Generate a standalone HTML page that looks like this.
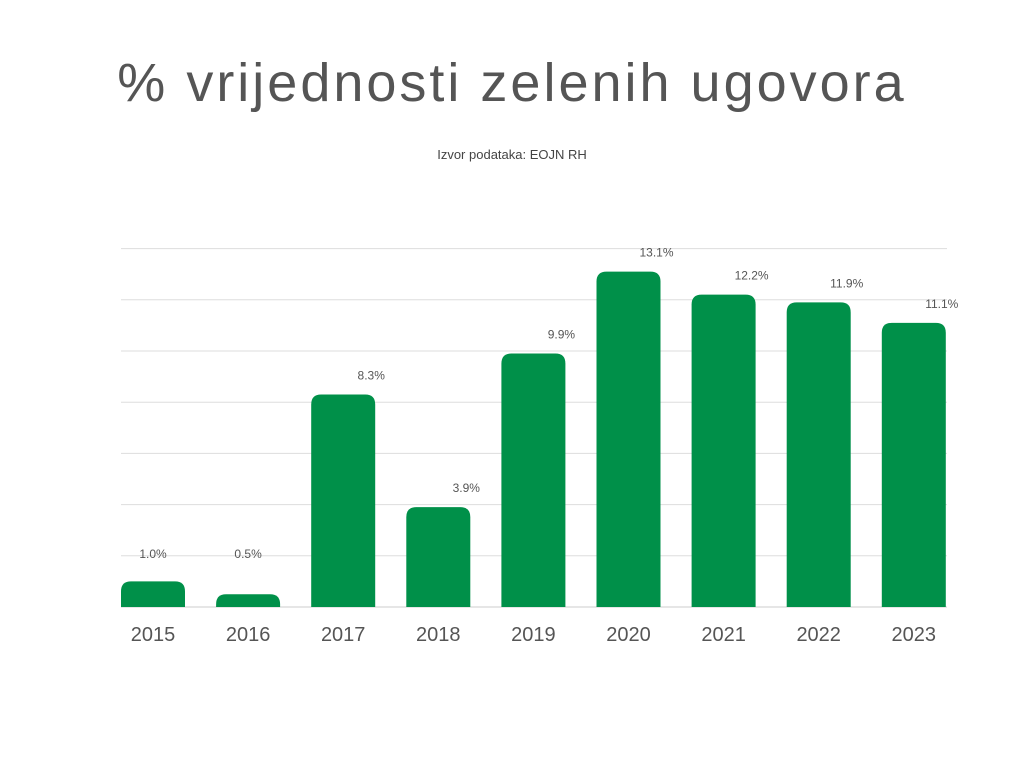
<!DOCTYPE html>
<html><head><meta charset="utf-8"><style>
body{margin:0;background:#fff;width:1024px;height:768px;overflow:hidden;font-family:"Liberation Sans",sans-serif;}
#title{position:absolute;top:52px;left:0;width:1024px;text-align:center;font-size:54px;color:#555;letter-spacing:3px;}
#sub{position:absolute;top:147px;left:0;width:1024px;text-align:center;font-size:13px;color:#444;}
svg{position:absolute;left:0;top:0;}
</style></head><body>
<div id="title">% vrijednosti zelenih ugovora</div>
<div id="sub">Izvor podataka: EOJN RH</div>
<svg id="c" width="1024" height="768"></svg>
<script>
const categories=["2015","2016","2017","2018","2019","2020","2021","2022","2023"];
const values=[1.0,0.5,8.3,3.9,9.9,13.1,12.2,11.9,11.1];
const valueLabels=["1.0%","0.5%","8.3%","3.9%","9.9%","13.1%","12.2%","11.9%","11.1%"];
const gridTicks=[0,2,4,6,8,10,12,14];
const NS="http://www.w3.org/2000/svg";
const svg=document.getElementById('c');
const x0=121,step=95.1,bw=64,base=607,pxPer=25.6;
const xs=i=>x0+i*step;
const ys=v=>base-v*pxPer;
function mk(t,a){const e=document.createElementNS(NS,t);for(const k in a)e.setAttribute(k,a[k]);svg.appendChild(e);return e;}
gridTicks.forEach(t=>{
 const l=mk('line',{x1:121,x2:947,y1:ys(t),y2:ys(t),stroke:t===0?'#ccc':'#ddd','stroke-width':1});
 
 
});
values.forEach((v,i)=>{
 const x=xs(i),y=ys(v),h=base-y,r=Math.min(10,h);
 const p=mk('path',{d:`M${x},${base}V${y+r}Q${x},${y} ${x+r},${y}H${x+bw-r}Q${x+bw},${y} ${x+bw},${y+r}V${base}Z`,fill:'#009049'});
 
 
 const small=v<2;
 const lx=small?x+bw/2:x+bw/2+28, ly=small?ys(0)-49:y-15;
 const t=mk('text',{x:lx,y:ly,'text-anchor':'middle','font-size':12,fill:'#555','font-family':'Liberation Sans, sans-serif'});
 t.textContent=valueLabels[i];
 
 
 const c=mk('text',{x:x+bw/2,y:641,'text-anchor':'middle','font-size':20,fill:'#555','font-family':'Liberation Sans, sans-serif'});
 c.textContent=categories[i];
 
 
});
</script>
</body></html>
